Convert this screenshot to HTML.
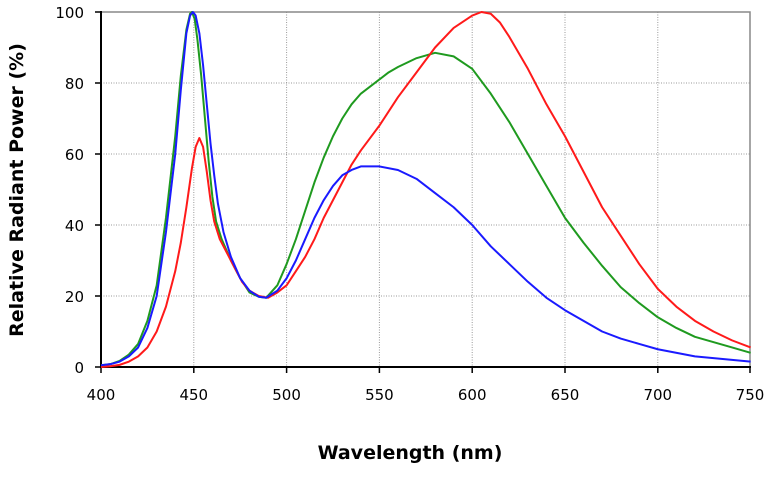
<!DOCTYPE html>
<html><head><meta charset="utf-8"><style>
html,body{margin:0;padding:0;background:#fff;}
svg{display:block;font-family:"DejaVu Sans","Liberation Sans",sans-serif;}
</style></head><body>
<svg width="778" height="481" viewBox="0 0 778 481">
<g stroke="#999" stroke-width="1" stroke-dasharray="1,1.5">
<line x1="193.8" y1="12" x2="193.8" y2="367"/><line x1="286.6" y1="12" x2="286.6" y2="367"/>
<line x1="379.4" y1="12" x2="379.4" y2="367"/><line x1="472.2" y1="12" x2="472.2" y2="367"/>
<line x1="565" y1="12" x2="565" y2="367"/><line x1="657.8" y1="12" x2="657.8" y2="367"/>
<line x1="101" y1="83" x2="750" y2="83"/><line x1="101" y1="154" x2="750" y2="154"/>
<line x1="101" y1="225" x2="750" y2="225"/><line x1="101" y1="296" x2="750" y2="296"/>
</g>
<rect x="101" y="12" width="649" height="355" fill="none" stroke="#888" stroke-width="1.5"/>
<g stroke="#000" stroke-width="2">
<line x1="101" y1="11" x2="101" y2="368"/><line x1="100" y1="367" x2="751" y2="367"/>
</g>
<g stroke="#000" stroke-width="1.5">
<line x1="95" y1="12" x2="101" y2="12"/><line x1="95" y1="83" x2="101" y2="83"/><line x1="95" y1="154" x2="101" y2="154"/><line x1="95" y1="225" x2="101" y2="225"/><line x1="95" y1="296" x2="101" y2="296"/><line x1="95" y1="367" x2="101" y2="367"/>
<line x1="101" y1="367" x2="101" y2="373"/><line x1="193.8" y1="367" x2="193.8" y2="373"/><line x1="286.6" y1="367" x2="286.6" y2="373"/><line x1="379.4" y1="367" x2="379.4" y2="373"/><line x1="472.2" y1="367" x2="472.2" y2="373"/><line x1="565" y1="367" x2="565" y2="373"/><line x1="657.8" y1="367" x2="657.8" y2="373"/><line x1="750" y1="367" x2="750" y2="373"/>
</g>
<g transform="translate(101,367) scale(1.856,-3.55)" fill="none" stroke-width="2" stroke-linejoin="round">
<polyline vector-effect="non-scaling-stroke" stroke="#1f9a1f" points="0,0.5 5,0.8 10,1.7 15,3.5 20,6.5 25,13 30,23 35,42 40,65 43,82 46,95 48,99.5 49,100 50.5,98 52,92 54,82 56,70 58,58 60,48 62,41 65,36 70,30 75,25 80,21 85,19.8 89,19.5 95,23 100,29 105,36 110,44 115,52 120,59 125,65 130,70 135,74 140,77 145,79 150,81 155,83 160,84.5 170,87 180,88.5 190,87.5 200,84 210,77 220,69 230,60 240,51 250,42 260,35 270,28.5 280,22.5 290,18 300,14 310,11 320,8.5 340,5.5 350,4"/>
<polyline vector-effect="non-scaling-stroke" stroke="#ff1a1a" points="0,0 5,0.2 10,0.6 15,1.5 20,3 25,5.5 30,10 35,17 40,27 43,35 46,45 49,56 51,62 53,64.5 55,62 57,55 59,47 61,41 64,36 68,32 72,28 76,24 80,21.5 85,20 90,19.5 95,21 100,23 105,27 110,31 115,36 120,42 125,47 130,52 135,57 140,61 150,68 160,76 170,83 180,90 190,95.5 200,99 205,100 210,99.5 215,97 220,93 230,84 240,74 250,65 260,55 270,45 280,37 290,29 300,22 310,17 320,13 330,10 340,7.5 350,5.5"/>
<polyline vector-effect="non-scaling-stroke" stroke="#1a1aff" points="0,0.5 5,0.8 10,1.5 15,3 20,5.5 25,11 30,20 35,38 40,60 43,78 46,94 48,99 49.5,100 51,99 53,94 55,85 57,74 59,63 61,54 63,46 66,38 70,31 75,25 80,21.5 85,19.8 89,19.5 95,21.5 100,25 105,30 110,36 115,42 120,47 125,51 130,54 135,55.5 140,56.5 150,56.5 160,55.5 170,53 180,49 190,45 200,40 210,34 220,29 230,24 240,19.5 250,16 260,13 270,10 280,8 290,6.5 300,5 320,3 350,1.5"/>
</g>
<g font-size="15" text-anchor="end" fill="#000">
<text x="84" y="18">100</text><text x="84" y="89">80</text><text x="84" y="160">60</text><text x="84" y="231">40</text><text x="84" y="302">20</text><text x="84" y="373">0</text>
</g>
<g font-size="15" text-anchor="middle" fill="#000">
<text x="101" y="400">400</text><text x="193.8" y="400">450</text><text x="286.6" y="400">500</text><text x="379.4" y="400">550</text><text x="472.2" y="400">600</text><text x="565" y="400">650</text><text x="657.8" y="400">700</text><text x="750" y="400">750</text>
</g>
<text x="410" y="459" font-size="19" font-weight="bold" text-anchor="middle">Wavelength (nm)</text>
<text transform="translate(23,190) rotate(-90)" font-size="19" font-weight="bold" text-anchor="middle">Relative Radiant Power (%)</text>
</svg>
</body></html>
